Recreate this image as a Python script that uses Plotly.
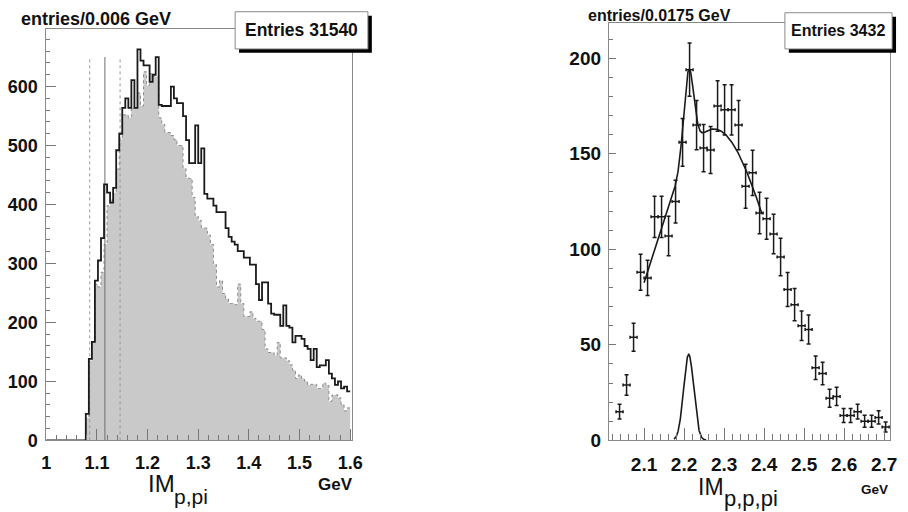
import numpy as np
import plotly.graph_objects as go

# ---------------- left panel: IM(p,pi), 0.006 GeV bins from 1.0 to 1.6 ----------------
lam_lo, lam_hi, lam_nbins = 1.0, 1.6, 100
lam_all = [
    0, 0, 0, 0, 0, 0, 0, 0, 0, 0, 0, 0, 0,
    45, 138, 167, 271, 305, 343, 434, 420, 403, 428, 492,
    520, 564, 580, 564, 611, 564, 663, 644, 636, 636,
    608, 620, 650, 569, 567, 567, 567, 600, 580, 572,
    572, 550, 509, 470, 470, 534, 470, 495, 418, 410,
    410, 398, 387, 387, 387, 360, 345, 337, 332, 321,
    321, 310, 310, 298, 298, 265, 238, 268, 268, 232,
    215, 213, 213, 194, 229, 194, 191, 166, 177, 177,
    172, 160, 155, 136, 155, 124, 127, 127, 136, 113,
    105, 94, 100, 88, 91, 83,
]
lam_sel = [
    0, 0, 0, 0, 0, 0, 0, 0, 0, 0, 0, 0, 0,
    38, 135, 167, 265, 260, 285, 332, 398, 408, 420, 460,
    510, 552, 552, 547, 564, 564, 589, 567, 625, 602,
    622, 617, 617, 547, 536, 522, 522, 517, 510, 500,
    500, 461, 445, 444, 412, 380, 373, 360, 360, 348,
    332, 298, 260, 271, 249, 240, 232, 232, 230, 265,
    232, 210, 210, 218, 207, 202, 202, 188, 155, 149,
    149, 144, 166, 140, 140, 135, 128, 119, 105, 111,
    105, 100, 94, 95, 95, 88, 88, 97, 94, 66,
    77, 77, 72, 61, 50, 55,
]
lam_mass = 1.1157      # Lambda mass, GeV
lam_window = 0.03      # selection half-width, GeV
lam_line_top = 650
lam_xticks = [1.0, 1.1, 1.2, 1.3, 1.4, 1.5, 1.6]
lam_xlabels = ["1", "1.1", "1.2", "1.3", "1.4", "1.5", "1.6"]
lam_yticks = [0, 100, 200, 300, 400, 500, 600]

# ---------------- right panel: IM(p,p,pi), 0.0175 GeV bins ----------------
ppl_lo, ppl_width = 2.0125, 0.0175
ppl_first_bin = 1
ppl_counts = [
    15, 29, 54, 88, 85, 117, 117, 107, 125, 156,
    194, 165, 153, 152, 175, 173, 173, 165, 133, 140,
    119, 116, 108, 96, 79, 71, 60, 58, 38, 35,
    22, 23, 13, 13, 15, 10, 10, 12, 7,
]
ppl_xticks = [2.1, 2.2, 2.3, 2.4, 2.5, 2.6, 2.7]
ppl_xlabels = ["2.1", "2.2", "2.3", "2.4", "2.5", "2.6", "2.7"]
ppl_yticks = [0, 50, 100, 150, 200]

# fit: narrow gaussian signal on a broad gaussian background
sig_amp, sig_mean, sig_sigma = 45.0, 2.2115, 0.0125
bg_amp, bg_mean, bg_sigma = 163.0, 2.275, 0.15
fit_range = (2.10, 2.395)
sig_range = (2.175, 2.255)

W, H = 908, 512
FONT = "Liberation Sans, Arial, Helvetica, sans-serif"
INK = "#111111"
FRAME = "#8a8a8a"


def px(x):
    return x / W


def py(y):
    return 1 - y / H


fig = go.Figure()

# left histograms
lam_edges = np.linspace(lam_lo, lam_hi, lam_nbins + 1)
sel_y = np.append(lam_sel, lam_sel[-1])
all_y = np.append(lam_all, lam_all[-1])

fig.add_trace(go.Scatter(
    x=lam_edges, y=sel_y, mode="lines", line_shape="hv",
    fill="tozeroy", fillcolor="#c9c9c9",
    line=dict(color="#8c8c8c", width=1, dash="dot"),
    xaxis="x", yaxis="y", hoverinfo="skip"))

for xv, dash, col in [(lam_mass - lam_window, "dot", "#9a9a9a"),
                      (lam_mass, "solid", "#6e6e6e"),
                      (lam_mass + lam_window, "dot", "#9a9a9a")]:
    fig.add_trace(go.Scatter(
        x=[xv, xv], y=[0, lam_line_top], mode="lines",
        line=dict(color=col, width=1, dash=dash),
        xaxis="x", yaxis="y", hoverinfo="skip"))

fig.add_trace(go.Scatter(
    x=lam_edges, y=all_y, mode="lines", line_shape="hv",
    line=dict(color="#1a1a1a", width=1.8),
    xaxis="x", yaxis="y", hoverinfo="skip"))

# right data points with errors
counts = np.array(ppl_counts, dtype=float)
k = np.arange(ppl_first_bin, ppl_first_bin + len(counts))
centers = ppl_lo + ppl_width * (k + 0.5)

fig.add_trace(go.Scatter(
    x=centers, y=counts, mode="markers",
    marker=dict(size=1, color="#1a1a1a"),
    error_y=dict(type="data", array=np.sqrt(counts), thickness=1.5,
                 width=2, color="#1a1a1a"),
    error_x=dict(type="constant", value=ppl_width / 2, thickness=1.5,
                 width=1.5, color="#1a1a1a"),
    xaxis="x2", yaxis="y2", hoverinfo="skip"))


def gauss(x, a, m, s):
    return a * np.exp(-0.5 * ((x - m) / s) ** 2)


xf = np.linspace(*fit_range, 400)
fig.add_trace(go.Scatter(
    x=xf, y=gauss(xf, sig_amp, sig_mean, sig_sigma) + gauss(xf, bg_amp, bg_mean, bg_sigma),
    mode="lines", line=dict(color="#1a1a1a", width=1.6),
    xaxis="x2", yaxis="y2", hoverinfo="skip"))

xs = np.linspace(*sig_range, 200)
fig.add_trace(go.Scatter(
    x=xs, y=gauss(xs, sig_amp, sig_mean, sig_sigma),
    mode="lines", line=dict(color="#1a1a1a", width=1.6),
    xaxis="x2", yaxis="y2", hoverinfo="skip"))


def axis(domain, rng, tickvals, ticktext, minor_dtick, major_len, minor_len,
         size, standoff, anchor):
    return dict(
        domain=domain, range=rng, anchor=anchor,
        showgrid=False, zeroline=False,
        showline=True, linecolor=FRAME, linewidth=1, mirror=True,
        ticks="inside", ticklen=major_len, tickcolor="#777777", tickwidth=1,
        tickmode="array", tickvals=tickvals,
        ticktext=["<b>%s</b>" % t for t in ticktext],
        minor=dict(dtick=minor_dtick, ticks="inside", ticklen=minor_len,
                   tickcolor="#777777", tickwidth=1, showgrid=False),
        tickfont=dict(family=FONT, size=size, color=INK),
        ticklabelstandoff=standoff,
    )


ydom_l = [py(450), py(30)]
ydom_r = [py(450), py(24)]

fig.update_layout(
    width=W, height=H,
    margin=dict(l=0, r=0, t=0, b=0),
    paper_bgcolor="white", plot_bgcolor="white",
    showlegend=False,
    xaxis=axis([px(42), px(353)], [1.0, 1.604], lam_xticks, lam_xlabels,
               0.02, 11, 5, 18, 6, "y"),
    yaxis=axis(ydom_l, [0, 697], lam_yticks, [str(v) for v in lam_yticks],
               20, 10, 4, 18, 4, "x"),
    xaxis2=axis([px(614), px(900)], [2.012, 2.715], ppl_xticks, ppl_xlabels,
                0.02, 12, 6, 19, 7, "y2"),
    yaxis2=axis(ydom_r, [0, 218.2], ppl_yticks, [str(v) for v in ppl_yticks],
                10, 7, 4, 19, 3, "x2"),
)

shapes = []
annotations = []


def stat_box(x0, y0, x1, y1, label, size):
    shapes.append(dict(type="rect", xref="paper", yref="paper",
                       x0=px(x0 + 4), x1=px(x1 + 4), y0=py(y1 + 4), y1=py(y0 + 4),
                       fillcolor="#000000", line=dict(width=0), layer="above"))
    shapes.append(dict(type="rect", xref="paper", yref="paper",
                       x0=px(x0), x1=px(x1), y0=py(y1), y1=py(y0),
                       fillcolor="white", line=dict(color=FRAME, width=1), layer="above"))
    annotations.append(dict(text="<b>%s</b>" % label, xref="paper", yref="paper",
                            x=px((x0 + x1) / 2), y=py((y0 + y1) / 2),
                            xanchor="center", yanchor="middle", showarrow=False,
                            font=dict(family=FONT, size=size, color=INK)))


def text(label, x, y, size, bold=True, xanchor="left"):
    annotations.append(dict(text=("<b>%s</b>" % label) if bold else label,
                            xref="paper", yref="paper",
                            x=px(x), y=py(y), xanchor=xanchor, yanchor="middle",
                            showarrow=False,
                            font=dict(family=FONT, size=size, color=INK)))


stat_box(234, 12, 369, 50, "Entries 31540", 17.5)
stat_box(793, 13, 902, 50, "Entries 3432", 16)

text("entries/0.006 GeV", 14, 19, 18)
text("entries/0.0175 GeV", 591, 16, 16)

text("IM", 143, 494, 24, bold=False)
text("p,pi", 170, 507, 21, bold=False)
text("GeV", 336, 495, 17, xanchor="center")

text("IM", 703, 498, 23, bold=False)
text("p,p,pi", 729, 509, 22, bold=False)
text("GeV", 884, 500, 13.5, xanchor="center")

fig.update_layout(shapes=shapes, annotations=annotations)

fig.write_html("out.html")
